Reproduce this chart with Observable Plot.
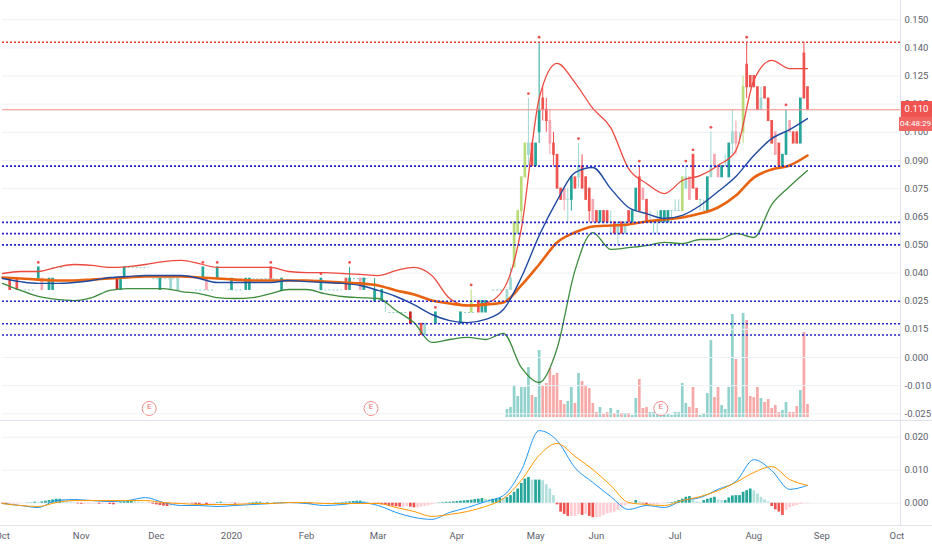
<!DOCTYPE html>
<html><head><meta charset="utf-8">
<script src="https://cdn.jsdelivr.net/npm/d3@7"></script>
<script src="https://cdn.jsdelivr.net/npm/@observablehq/plot@0.6"></script>
<style>
body{margin:0;background:#fff;font-family:Roboto,"Liberation Sans",sans-serif;}
#wrap{position:relative;width:932px;height:550px;overflow:hidden;background:#fff;}
#wrap > .layer{position:absolute;left:0;}
.sep{position:absolute;background:#e0e3eb;}
.tag{position:absolute;color:#fff;font-family:Roboto,sans-serif;text-align:center;background:#ef5350;white-space:nowrap;}
</style></head><body><div id="wrap"></div>
<script>
// ---------------- DATA ----------------
const holidays = ["2019-10-28","2019-12-25","2020-01-01","2020-01-27","2020-05-01","2020-05-07","2020-05-25","2020-05-26","2020-07-31","2020-08-20","2020-08-31","2020-09-16"];
const monthTickDates = ["2019-10-01","2019-11-01","2019-12-02","2020-01-02","2020-02-03","2020-03-02","2020-04-01","2020-05-04","2020-06-01","2020-07-01","2020-08-03","2020-09-01","2020-10-01"];
const monthTickLabels = ["Oct","Nov","Dec","2020","Feb","Mar","Apr","May","Jun","Jul","Aug","Sep","Oct"];
const priceTicks = [-0.025,-0.0125,0,0.0125,0.025,0.0375,0.05,0.0625,0.075,0.0875,0.1,0.1125,0.125,0.1375,0.15];
const priceTickLabels = ["-0.025","-0.010","0.000","0.015","0.025","0.040","0.050","0.065","0.075","0.090","0.100","0.115","0.125","0.140","0.150"];
const macdTicks = [0, 0.01, 0.02];
const macdTickLabels = ["0.000","0.010","0.020"];

// candles: "open,high,low,close,colour code[,m = marker]" in thousandths
const earlyCandles = [
 ["2019-10-03","35,35,30,30,R"],["2019-10-07","35,35,30,30,R"],["2019-10-15","35,40,35,40,T,m"],["2019-10-16","35,35,30,30,r"],
 ["2019-10-18","30,35,30,35,T"],["2019-10-21","30,35,30,35,T"],["2019-11-15","35,35,30,30,D"],["2019-11-18","30,35,30,35,T"],
 ["2019-11-19","35,40,35,40,T"],["2019-12-03","30,35,30,35,T"],["2019-12-06","30,35,30,35,t"],["2019-12-10","30,35,30,35,t"],
 ["2019-12-19","35,40,35,40,T,m"],["2019-12-20","35,35,30,30,r"],["2019-12-26","35,40,35,40,T,m"],["2020-01-02","30,35,30,35,T"],
 ["2020-01-08","30,35,30,35,T"],["2020-01-09","30,35,30,35,T"],["2020-01-17","40,40,35,35,R,m"],["2020-01-22","30,35,30,35,T"],
 ["2020-02-07","30,35,30,35,T,m"],["2020-02-18","35,35,30,30,R"],["2020-02-19","30,40,30,35,T,m"],["2020-02-24","35,35,30,30,r"],
 ["2020-02-25","30,35,30,35,T"],["2020-02-28","25,35,25,30,T"],["2020-03-03","25,30,25,30,T"],["2020-03-04","25,25,20,25,t"],
 ["2020-03-13","20,20,15,15,D"],["2020-03-18","15,15,10,10,R"],["2020-03-19","10,15,10,15,t"],["2020-03-24","15,20,15,20,T,m"],
 ["2020-04-02","15,20,15,20,T"],["2020-04-07","20,30,20,25,Y,m"],["2020-04-09","25,25,20,20,R"],["2020-04-10","20,25,20,25,T"],
 ["2020-04-13","20,25,20,25,T"]
];
const activeStart = "2020-04-21"; // consecutive sessions from this date
const activeCandles = [
"25,30,25,30,t","30,40,30,35,t","40,60,40,60,Y","55,65,55,65,Y","65,80,60,80,Y","80,95,80,95,Y","90,115,85,95,t,m","95,95,85,85,R","85,95,85,95,T","100,140,95,110,T,m",
"115,120,105,110,R","110,115,100,105,R","105,110,90,95,r","95,100,85,90,R","90,90,75,75,R","75,75,70,70,R","75,75,65,70,r","70,75,60,70,t","70,80,65,80,T","80,80,75,75,R",
"80,95,75,85,t,m","85,90,75,75,R","80,80,70,70,R","75,75,60,65,R","70,70,60,60,r","65,65,60,60,R","60,65,60,65,T","65,65,60,60,R","65,65,60,60,R","60,65,55,60,t",
"60,60,55,55,R","55,60,50,60,t","60,60,55,55,R","55,60,55,60,t","65,65,60,60,R","60,65,60,65,T","65,75,65,75,T","80,85,65,65,R,m","75,75,70,70,r","70,70,60,60,R",
"60,65,60,60,t","60,60,55,60,t","60,65,55,60,t","60,65,60,65,T","60,65,60,65,T","60,65,60,65,T","65,65,60,65,t","65,70,65,65,t","65,70,65,65,t","65,80,65,80,Y",
"75,85,75,80,t,m","80,80,70,70,r","90,90,75,75,R,m","75,75,70,70,R","70,70,65,70,t","65,70,65,65,t","65,80,65,80,T","80,100,80,85,t,m","90,90,85,85,r","85,85,80,80,r",
"80,85,80,85,T","85,90,85,85,t","80,95,80,95,T","95,110,90,100,t","100,105,90,95,r","95,100,95,95,t","100,125,95,120,Y","130,140,115,120,R,m","125,125,120,120,R","125,125,120,120,R",
"120,120,110,110,R","110,120,110,115,t","120,120,115,115,R","115,115,105,105,R","105,105,95,95,R","100,100,90,90,r","95,95,85,85,R","85,90,85,90,T","90,110,90,100,T,m","105,105,100,100,r",
"100,100,95,95,R","100,100,95,95,R","95,115,95,115,T","135,140,115,115,R","120,120,110,110,R"
];
const activeVolume = [8,10,32,21,30,30,50,22,20,67,32,34,49,42,44,17,13,16,30,14,44,36,32,29,14,5,10,3,5,9,4,7,4,4,4,2,19,38,9,10,5,5,5,2,2,3,2,5,5,34,14,10,30,9,2,4,24,77,20,30,12,8,30,103,58,20,104,97,21,20,30,19,15,18,9,12,5,7,15,5,5,11,27,85,13];

// flat (no-trade) sessions drawn as dashes
const flatStart = ["2019-10-08","2019-10-21","2019-11-19","2019-11-29","2019-12-17","2019-12-31","2020-01-10","2020-02-07","2020-02-19","2020-03-05","2020-04-02","2020-04-15"];
const flatEnd   = ["2019-10-14","2019-10-24","2019-11-28","2019-12-10","2019-12-24","2020-01-07","2020-01-21","2020-02-17","2020-02-26","2020-03-12","2020-04-08","2020-04-20"];
const flatPrice = [0.030,0.040,0.040,0.035,0.030,0.030,0.035,0.030,0.035,0.020,0.020,0.030];

// indicator lines, one value every 5 sessions from 2019-10-01
const bbUpper = [0.0373,0.0382,0.0382,0.0400,0.0413,0.0409,0.0400,0.0404,0.0413,0.0426,0.0431,0.0417,0.0400,0.0400,0.0400,0.0400,0.0382,0.0377,0.0377,0.0373,0.0369,0.0364,0.0386,0.0400,0.0364,0.0262,0.0231,0.0240,0.0302,0.0570,0.1150,0.1306,0.1221,0.1106,0.1021,0.0839,0.0773,0.0728,0.0786,0.0808,0.0853,0.0919,0.1230,0.1319,0.1283,0.1283];
const bbMid = [0.0351,0.0337,0.0329,0.0329,0.0333,0.0342,0.0355,0.0360,0.0364,0.0364,0.0364,0.0351,0.0333,0.0333,0.0333,0.0333,0.0342,0.0337,0.0333,0.0329,0.0320,0.0298,0.0271,0.0235,0.0191,0.0164,0.0155,0.0169,0.0213,0.0355,0.0542,0.0697,0.0821,0.0844,0.0750,0.0666,0.0639,0.0617,0.0631,0.0675,0.0737,0.0804,0.0897,0.0972,0.1012,0.1061];
const bbLower = [0.0329,0.0298,0.0271,0.0258,0.0253,0.0266,0.0298,0.0306,0.0306,0.0306,0.0293,0.0284,0.0266,0.0262,0.0266,0.0284,0.0302,0.0302,0.0284,0.0271,0.0266,0.0262,0.0209,0.0155,0.0067,0.0080,0.0089,0.0080,0.0107,-0.0044,-0.0111,0.0040,0.0386,0.0555,0.0480,0.0488,0.0497,0.0511,0.0506,0.0524,0.0524,0.0551,0.0533,0.0679,0.0759,0.0830];
const maSlow = [0.0355,0.0351,0.0346,0.0342,0.0342,0.0346,0.0351,0.0355,0.0360,0.0360,0.0360,0.0355,0.0351,0.0346,0.0342,0.0342,0.0342,0.0342,0.0337,0.0333,0.0329,0.0320,0.0298,0.0280,0.0253,0.0240,0.0231,0.0235,0.0244,0.0320,0.0413,0.0511,0.0555,0.0582,0.0586,0.0591,0.0604,0.0613,0.0622,0.0639,0.0666,0.0719,0.0799,0.0835,0.0853,0.0897];
const macdLine = [-0.0001,-0.0007,-0.0013,0.0008,0.0011,0.0008,0.0005,0.0008,0.0017,0.0002,-0.0007,-0.0007,-0.0010,-0.0007,-0.0004,-0.0001,0.0002,-0.0001,-0.0007,-0.0004,0.0002,-0.0007,-0.0028,-0.0043,-0.0049,-0.0028,-0.0013,0.0005,0.0023,0.0099,0.0220,0.0190,0.0108,0.0063,0.0020,-0.0019,-0.0007,-0.0013,0.0008,0.0017,0.0042,0.0066,0.0132,0.0099,0.0042,0.0054];
const signalLine = [-0.0001,-0.0007,-0.0010,0.0002,0.0008,0.0008,0.0008,0.0008,0.0008,0.0002,-0.0001,-0.0004,-0.0004,-0.0004,-0.0001,-0.0001,0.0002,0.0002,-0.0001,-0.0001,-0.0001,-0.0001,-0.0013,-0.0025,-0.0040,-0.0034,-0.0025,-0.0010,0.0014,0.0069,0.0145,0.0181,0.0142,0.0102,0.0054,0.0002,-0.0004,-0.0007,0.0008,0.0020,0.0038,0.0063,0.0093,0.0111,0.0072,0.0054];
// MACD histogram, every session from 2019-10-01, in units of 0.0001
const macdHist = [-3,-4,-4,-3,-2,-1,0,1,1,
 3,2,4,6,8,10,12,12,10,6,3,2,
 -2,-3,-3,-3,-2,-2,-3,-3,-2,
 -4,-5,-2,
 2,4,6,6,5,3,2,1,
 -1,-3,-5,-7,-9,-10,-8,-5,-3,-2,-1,
 -1,-2,-4,-5,-3,-4,-3,-2,
 2,3,2,1,
 -1,-3,-3,-2,-1,
 1,2,3,3,2,2,1,1,
 0,0,0,0,0,0,0,
 -1,-2,-3,-3,-2,-2,-1,-1,
 0,1,1,2,3,4,5,6,6,5,3,1,
 -1,-3,-5,-6,-8,-9,-11,-12,-12,-10,-12,-14,-14,-12,-10,-8,-5,-2,
 1,2,3,3,4,5,6,7,8,9,11,12,
 14,12,11,12,13,15,14,17,
 23,33,43,60,73,78,70,70,70,68,56,43,23,
 -5,-27,-34,-40,-40,-40,-34,-37,-34,-40,-44,-44,-42,-37,-32,-30,-27,-22,-14,-8,-4,-2,
 8,4,-2,-4,-4,-4,-4,-2,-2,1,
 2,4,8,12,18,20,10,4,3,8,12,15,18,10,8,8,16,22,23,23,33,38,43,38,28,18,10,4,
 -10,-20,-27,-37,-22,-14,-10,-7,-4,-2,-2];

const redLevels = [0.140];
const blueLevels = [0.085,0.060,0.055,0.050,0.025,0.015,0.010];
const lastPrice = 0.110;
const lastPriceText = "0.110";
const countdownText = "04:48:29";
const earnings = ["2019-11-28","2020-02-27","2020-06-25"];

// ---------------- BUILD ----------------
const fmt = d3.utcFormat("%Y-%m-%d");
const holSet = new Set(holidays);
const sessions = d3.utcDays(new Date(Date.UTC(2019,9,1)), new Date(Date.UTC(2020,9,3)))
  .filter(d => d.getUTCDay() !== 0 && d.getUTCDay() !== 6).map(fmt).filter(s => !holSet.has(s));

const colours = {T:"#26a69a", R:"#ef5350", t:"#9fd8d1", r:"#f5a7b3", Y:"#b9db78", D:"#c62828"};
const parseCandle = (date, str) => {
  const [o,h,l,c,code,m] = str.split(",");
  return {date, o:+o/1000, h:+h/1000, l:+l/1000, c:+c/1000, code, m: m === "m"};
};
const startIdx = sessions.indexOf(activeStart);
const active = activeCandles.map((s,k) => parseCandle(sessions[startIdx+k], s));
const candles = [...earlyCandles.map(([d,s]) => parseCandle(d,s)), ...active];
const volData = activeVolume.map((v,k) => ({date: sessions[startIdx+k], v, up: active[k].c >= active[k].o}));
const flats = flatPrice.map((p,i) => ({p, a: flatStart[i], b: flatEnd[i]}));
const lineSeries = arr => arr.map((v,k) => ({date: sessions[5*k], v}));
const histData = macdHist.map((v,i) => {
  const prev = i > 0 ? macdHist[i-1] : 0;
  const colour = v >= 0 ? (v >= prev ? "#26a69a" : "#b2dfdb") : (v < prev ? "#ef5350" : "#ffcdd2");
  return {date: sessions[i], v: v/1e4, colour};
});

const W = 932, ML = 2, MR = 32;
const xOpts = {type:"point", domain: sessions, padding: 0, axis: null};
const font = "Roboto, 'Liberation Sans', sans-serif";
const axisInk = "#5d606b";
const axisSize = 9.5;
const wrap = document.getElementById("wrap");

// volume layer (bottom)
const volPlot = Plot.plot({
  width: W, height: 420, marginLeft: ML, marginRight: MR, marginTop: 297, marginBottom: 3,
  style: {background: "transparent", overflow: "visible", fontFamily: font},
  x: xOpts, y: {domain: [0, 120], axis: null},
  marks: [
    Plot.ruleX(volData, {x:"date", y1:0, y2:"v", stroke: d => d.up ? "#26a69a" : "#ef5350", strokeOpacity: 0.5, strokeWidth: 2.7}),
    Plot.dot(earnings, {x: d => d, frameAnchor: "bottom", dy: -9, r: 7, stroke: "#f28b8b", fill: "white", strokeWidth: 1}),
    Plot.text(earnings, {x: d => d, frameAnchor: "bottom", dy: -9, text: () => "E", fill: "#e57373", fontSize: 8})
  ]
});

// price layer
const mainPlot = Plot.plot({
  width: W, height: 420, marginLeft: ML, marginRight: MR, marginTop: 0, marginBottom: 0,
  style: {background: "transparent", overflow: "visible", fontFamily: font},
  x: xOpts, y: {domain: [-0.02797, 0.15853], axis: null},
  marks: [
    Plot.gridY(priceTicks, {stroke: "#eef1f6", strokeOpacity: 1}),
    Plot.ruleY(flats, {y:"p", x1:"a", x2:"b", stroke:"#8fcfc7", strokeDasharray:"2,2", strokeWidth: 1}),
    Plot.ruleX(candles, {x:"date", y1:"h", y2:"l", stroke: d => colours[d.code], strokeWidth: 1}),
    Plot.ruleX(candles, {x:"date", y1: d => Math.max(d.o,d.c), y2: d => Math.min(d.o,d.c), stroke: d => colours[d.code], strokeWidth: 2.7, insetTop: -0.5, insetBottom: -0.5}),
    Plot.dot(candles.filter(d => d.m), {x:"date", y:"h", dy:-5, r:1.4, fill:"#ef5350"}),
    Plot.line(lineSeries(bbUpper), {x:"date", y:"v", stroke:"#ec4a3f", strokeWidth: 1.3, curve:"monotone-x"}),
    Plot.line(lineSeries(bbLower), {x:"date", y:"v", stroke:"#3d8b3d", strokeWidth: 1.3, curve:"monotone-x"}),
    Plot.line(lineSeries(maSlow), {x:"date", y:"v", stroke:"#e8620f", strokeWidth: 2.6, curve:"monotone-x"}),
    Plot.line(lineSeries(bbMid), {x:"date", y:"v", stroke:"#1f4aa0", strokeWidth: 1.4, curve:"monotone-x"}),
    Plot.ruleY(redLevels, {stroke:"#e53935", strokeDasharray:"2,2", strokeWidth: 1.3}),
    Plot.ruleY(blueLevels, {stroke:"#2424c8", strokeDasharray:"2,2", strokeWidth: 1.6}),
    Plot.ruleY([lastPrice], {stroke:"#f28a87", strokeWidth: 1}),
    Plot.axisY({anchor:"right", ticks: priceTicks, tickFormat: d => priceTickLabels[priceTicks.indexOf(d)], tickSize: 0, tickPadding: 4, fontSize: axisSize, fill: axisInk, label: null})
  ]
});

// MACD layer
const macdPlot = Plot.plot({
  width: W, height: 130, marginLeft: ML, marginRight: MR, marginTop: 1, marginBottom: 25,
  style: {background: "transparent", overflow: "visible", fontFamily: font},
  x: xOpts, y: {domain: [-0.00676, 0.02476], axis: null},
  marks: [
    Plot.gridY(macdTicks, {stroke: "#eef1f6", strokeOpacity: 1}),
    Plot.ruleX(histData, {x:"date", y1:0, y2:"v", stroke:"colour", strokeWidth: 2.7}),
    Plot.line(lineSeries(macdLine), {x:"date", y:"v", stroke:"#2196f3", strokeWidth: 1, curve:"monotone-x"}),
    Plot.line(lineSeries(signalLine), {x:"date", y:"v", stroke:"#ff9800", strokeWidth: 1, curve:"monotone-x"}),
    Plot.axisY({anchor:"right", ticks: macdTicks, tickFormat: d => macdTickLabels[macdTicks.indexOf(d)], tickSize: 0, tickPadding: 4, fontSize: axisSize, fill: axisInk, label: null}),
    Plot.axisX({ticks: monthTickDates, tickFormat: d => monthTickLabels[monthTickDates.indexOf(d)], tickSize: 0, tickPadding: 7, fontSize: axisSize, fill: axisInk, label: null})
  ]
});

function addLayer(node, top) {
  const div = document.createElement("div");
  div.className = "layer"; div.style.top = top + "px";
  div.appendChild(node); wrap.appendChild(div);
}
addLayer(volPlot, 0);
addLayer(mainPlot, 0);
addLayer(macdPlot, 420);

function sep(css) { const d = document.createElement("div"); d.className = "sep"; Object.assign(d.style, css); wrap.appendChild(d); }
sep({left:"0px", top:"420px", width: W + "px", height:"1px"});
sep({left:"0px", top:"525px", width: W + "px", height:"1px"});
sep({left:"900px", top:"0px", width:"1px", height:"526px"});

// last price tags positioned through the price scale
const yPix = mainPlot.scale("y").apply(lastPrice);
function tag(text, top, h, size, bg, left, width) {
  const d = document.createElement("div"); d.className = "tag"; d.textContent = text;
  Object.assign(d.style, {top: top + "px", height: h + "px", lineHeight: h + "px", fontSize: size + "px", background: bg, left: left + "px", width: width + "px"});
  wrap.appendChild(d);
}
tag(lastPriceText, yPix - 8, 16, 9.5, "#ef5350", 901, 31);
tag(countdownText, yPix + 8, 14, 8, "#f06562", 899, 33);
</script></body></html>
